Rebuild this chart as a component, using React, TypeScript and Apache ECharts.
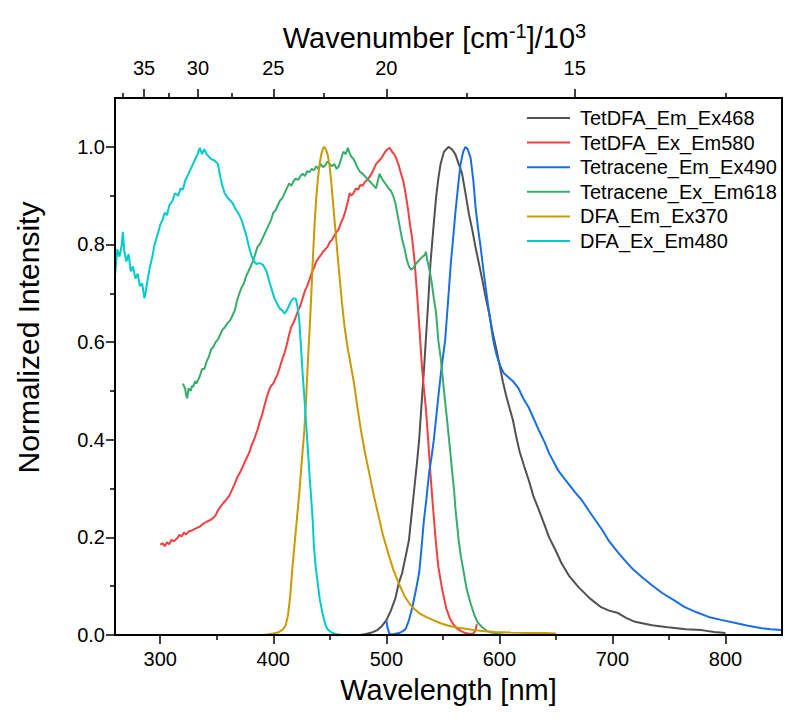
import React, { useEffect, useRef } from 'react';
import * as echarts from 'echarts';

// ---------- data (wavelength nm / normalized intensity) ----------
const tetDfaEmWl = [477, 482, 487, 492, 496, 500, 504, 508, 511, 514, 517, 520, 522.5, 524.6, 527, 529, 530.5, 532, 533.5, 534.9, 537, 539, 541.5, 544, 546, 548, 551, 555, 558, 561, 564, 567, 570, 573, 576, 579, 582, 585, 588, 591, 594, 597, 600, 603, 606, 609, 612, 615, 618, 622, 626, 630, 635, 640, 644, 650, 655, 662, 670, 680, 690, 697, 705, 712, 720, 735, 749, 765, 779, 790, 800];
const tetDfaEmInt = [0, 0.002, 0.005, 0.01, 0.018, 0.03, 0.05, 0.075, 0.106, 0.127, 0.16, 0.194, 0.25, 0.297, 0.35, 0.399, 0.45, 0.501, 0.55, 0.603, 0.68, 0.76, 0.83, 0.896, 0.935, 0.965, 0.99, 1.0, 0.995, 0.985, 0.965, 0.945, 0.905, 0.863, 0.83, 0.793, 0.76, 0.726, 0.69, 0.658, 0.62, 0.589, 0.555, 0.52, 0.49, 0.465, 0.44, 0.405, 0.375, 0.345, 0.317, 0.285, 0.256, 0.225, 0.2, 0.172, 0.147, 0.12, 0.098, 0.075, 0.057, 0.05, 0.045, 0.035, 0.027, 0.02, 0.016, 0.012, 0.01, 0.006, 0.004];

const tetDfaExWl = [300, 302, 304, 306, 308, 310, 312, 315, 317, 319, 321, 323, 325, 328, 331, 333, 335, 338, 341, 344, 347, 349, 351, 353, 355, 358, 361, 364, 366, 368, 371, 373, 376, 379, 381, 383, 386, 388, 390, 392, 394, 396, 398, 400, 402, 404, 406, 408, 410, 412, 414, 416, 418, 420, 422, 424, 426, 428, 430, 432, 434, 436, 438, 440, 442, 444, 446, 448, 450, 452, 454, 456, 458, 460, 462, 464, 466, 467.5, 469, 471, 473, 475, 477, 479, 481, 483, 485, 487, 489, 491, 493, 495, 497, 499, 501, 503, 505, 507, 509, 511, 513, 515, 517, 519, 521, 523, 525, 527, 528.5, 530, 531.5, 533, 534.9, 537, 539, 541, 543.7, 546, 549.5, 553, 556, 558.4, 562, 566, 570, 574, 577, 579, 580];
const tetDfaExInt = [0.185, 0.188, 0.182, 0.19, 0.186, 0.195, 0.192, 0.198, 0.205, 0.202, 0.21, 0.206, 0.212, 0.214, 0.218, 0.22, 0.222, 0.228, 0.232, 0.235, 0.24, 0.245, 0.255, 0.262, 0.268, 0.276, 0.285, 0.3, 0.31, 0.322, 0.335, 0.345, 0.36, 0.375, 0.39, 0.4, 0.42, 0.437, 0.45, 0.468, 0.485, 0.5, 0.51, 0.515, 0.525, 0.535, 0.55, 0.565, 0.578, 0.595, 0.615, 0.632, 0.64, 0.652, 0.665, 0.675, 0.69, 0.705, 0.715, 0.728, 0.742, 0.752, 0.765, 0.772, 0.778, 0.785, 0.79, 0.795, 0.805, 0.81, 0.818, 0.825, 0.832, 0.845, 0.855, 0.87, 0.888, 0.905, 0.9, 0.905, 0.915, 0.912, 0.922, 0.92, 0.928, 0.932, 0.938, 0.945, 0.955, 0.965, 0.97, 0.975, 0.982, 0.99, 0.995, 0.998, 0.99, 0.985, 0.975, 0.962, 0.945, 0.93, 0.905, 0.875, 0.84, 0.81, 0.765, 0.705, 0.655, 0.603, 0.55, 0.51, 0.467, 0.4, 0.331, 0.27, 0.194, 0.14, 0.092, 0.055, 0.035, 0.025, 0.014, 0.008, 0.004, 0.002, 0.003, 0.01, 0.022];

const tetEmWl = [500, 501, 503, 507, 511, 514, 517, 520, 523, 526, 529, 531, 533, 535.5, 537.8, 540, 542, 544.3, 546.6, 549, 552, 554.5, 557, 559, 561, 563.5, 565.7, 568, 570, 572, 574.5, 577, 579, 581, 583.4, 586, 588, 590, 592, 594, 596, 598, 601, 604, 608, 612, 617, 621, 626, 630, 635, 640, 644, 648, 652, 657, 661, 667, 673, 679, 685, 691, 696.5, 704, 711, 718, 726, 735, 744, 754, 764, 774, 785, 796, 808, 820, 832, 840, 850];
const tetEmInt = [0.03, 0.015, 0.001, 0.002, 0.004, 0.007, 0.012, 0.03, 0.057, 0.09, 0.127, 0.175, 0.229, 0.28, 0.331, 0.365, 0.399, 0.45, 0.501, 0.55, 0.603, 0.68, 0.76, 0.81, 0.863, 0.92, 0.965, 0.99, 1.0, 0.995, 0.978, 0.93, 0.875, 0.835, 0.795, 0.745, 0.71, 0.675, 0.645, 0.612, 0.588, 0.57, 0.55, 0.536, 0.528, 0.52, 0.505, 0.485, 0.466, 0.445, 0.419, 0.395, 0.372, 0.355, 0.337, 0.322, 0.31, 0.292, 0.276, 0.255, 0.235, 0.215, 0.194, 0.172, 0.153, 0.135, 0.119, 0.102, 0.086, 0.072, 0.057, 0.047, 0.037, 0.031, 0.025, 0.019, 0.014, 0.012, 0.01];

const tetExWl = [320, 321, 322, 323, 324, 325, 327, 328, 329, 331, 332, 334, 335, 337, 339, 341, 343, 345, 347, 349, 351, 353, 355, 357, 360, 362, 364, 366, 368, 370, 372, 374, 376, 378, 380, 382, 384, 386, 388, 390, 392, 394, 396, 398, 400, 402, 404, 406, 408, 410, 412, 414, 416, 418, 420, 422, 424, 426, 428, 430, 432, 434, 436, 438, 440, 442, 444, 446, 448, 450, 452, 454, 456, 458, 460, 462, 464, 466, 467, 469, 471, 473, 475, 477, 479, 481, 483, 485, 487, 489, 491, 493, 494, 496, 498, 500, 502, 504, 506, 508, 510, 512, 514, 516, 518, 520, 522, 524, 526, 528, 530, 532, 534, 535, 536, 538, 540, 542, 544, 546, 548, 549.5, 551, 552.5, 554, 555.5, 557, 558.4, 560, 561, 562.5, 564, 566, 568.6, 571, 574.5, 578, 581, 584.8, 589, 593, 596.6, 600, 605];
const tetExInt = [0.515, 0.51, 0.505, 0.49, 0.485, 0.505, 0.5, 0.51, 0.508, 0.52, 0.515, 0.525, 0.53, 0.545, 0.545, 0.56, 0.57, 0.585, 0.59, 0.6, 0.605, 0.615, 0.625, 0.63, 0.64, 0.645, 0.655, 0.665, 0.685, 0.7, 0.712, 0.72, 0.735, 0.745, 0.755, 0.765, 0.78, 0.795, 0.8, 0.81, 0.82, 0.83, 0.84, 0.85, 0.865, 0.87, 0.88, 0.89, 0.895, 0.905, 0.915, 0.925, 0.92, 0.93, 0.935, 0.932, 0.94, 0.945, 0.94, 0.95, 0.948, 0.955, 0.952, 0.96, 0.955, 0.965, 0.958, 0.962, 0.97, 0.965, 0.96, 0.965, 0.955, 0.96, 0.975, 0.99, 0.985, 0.998, 0.99, 0.98, 0.975, 0.965, 0.955, 0.948, 0.945, 0.94, 0.935, 0.93, 0.925, 0.92, 0.915, 0.935, 0.945, 0.935, 0.928, 0.922, 0.915, 0.91, 0.9, 0.885, 0.86, 0.835, 0.81, 0.793, 0.77, 0.755, 0.748, 0.752, 0.76, 0.765, 0.77, 0.775, 0.778, 0.785, 0.77, 0.75, 0.725, 0.69, 0.66, 0.603, 0.57, 0.536, 0.5, 0.467, 0.435, 0.399, 0.365, 0.331, 0.295, 0.262, 0.228, 0.194, 0.16, 0.127, 0.095, 0.065, 0.04, 0.025, 0.016, 0.008, 0.005, 0.004, 0.002, 0];

const dfaEmWl = [390, 395, 400, 404, 407, 409, 411, 413, 415, 417, 419, 421, 423, 425, 427.5, 429, 430.5, 432, 433.5, 435, 436.5, 438, 439.5, 441, 442.5, 444, 445, 446.5, 448, 449.6, 451, 452.5, 454, 455.5, 457, 459, 461, 463, 465.5, 468, 471.5, 474.5, 477.5, 481, 485, 489, 493, 497, 502, 506, 511, 516, 520, 523, 529, 535, 541, 548, 555, 561, 570, 578, 585, 596, 610, 625, 640, 650];
const dfaEmInt = [0, 0.001, 0.003, 0.005, 0.009, 0.013, 0.02, 0.04, 0.08, 0.14, 0.19, 0.24, 0.29, 0.35, 0.42, 0.48, 0.556, 0.62, 0.69, 0.77, 0.84, 0.895, 0.935, 0.965, 0.985, 0.997, 1.0, 0.995, 0.985, 0.965, 0.935, 0.895, 0.855, 0.815, 0.775, 0.725, 0.675, 0.632, 0.592, 0.56, 0.515, 0.465, 0.42, 0.375, 0.33, 0.285, 0.245, 0.205, 0.165, 0.135, 0.106, 0.08, 0.066, 0.057, 0.045, 0.037, 0.031, 0.024, 0.019, 0.016, 0.013, 0.01, 0.008, 0.006, 0.005, 0.004, 0.004, 0.003];

const dfaExWl = [260, 262, 264, 266, 267, 268, 270, 272, 274, 276, 278, 280, 282, 284, 286, 287, 289, 291, 293, 295, 297, 300, 302, 304, 306, 308, 311, 313, 316, 318, 320, 322, 325, 327, 329, 331, 333, 335, 337, 339, 341, 343, 345, 348, 351, 353, 355, 357, 360, 362, 364, 366, 368, 370, 372, 374, 376, 378, 381, 383, 385, 388, 391, 394, 397, 399, 401, 403, 406, 408, 410, 412, 414, 416, 418, 420, 421.5, 423, 424.5, 426, 427.5, 429, 430.5, 432, 433.5, 435, 436, 437.5, 439, 441, 443.5, 446, 448, 451, 455, 460];
const dfaExInt = [0.735, 0.79, 0.775, 0.8, 0.826, 0.79, 0.765, 0.78, 0.745, 0.755, 0.73, 0.74, 0.715, 0.72, 0.69, 0.7, 0.73, 0.755, 0.775, 0.8, 0.815, 0.84, 0.85, 0.865, 0.86, 0.88, 0.89, 0.905, 0.9, 0.915, 0.912, 0.93, 0.945, 0.955, 0.965, 0.975, 0.985, 0.998, 0.985, 0.995, 0.985, 0.98, 0.975, 0.972, 0.965, 0.94, 0.92, 0.905, 0.895, 0.89, 0.885, 0.875, 0.868, 0.86, 0.85, 0.835, 0.82, 0.8, 0.775, 0.765, 0.76, 0.762, 0.758, 0.745, 0.72, 0.705, 0.69, 0.68, 0.668, 0.665, 0.658, 0.665, 0.675, 0.685, 0.69, 0.688, 0.672, 0.645, 0.59, 0.535, 0.487, 0.435, 0.384, 0.33, 0.282, 0.23, 0.18, 0.14, 0.112, 0.075, 0.045, 0.022, 0.012, 0.006, 0.002, 0];

const seriesNames = ['TetDFA_Em_Ex468', 'TetDFA_Ex_Em580', 'Tetracene_Em_Ex490', 'Tetracene_Ex_Em618', 'DFA_Em_Ex370', 'DFA_Ex_Em480'];
const seriesColors = ['#515151', '#F14040', '#1A6FDF', '#37AD6B', '#CC9900', '#00CBCC'];
const seriesWl = [tetDfaEmWl, tetDfaExWl, tetEmWl, tetExWl, dfaEmWl, dfaExWl];
const seriesInt = [tetDfaEmInt, tetDfaExInt, tetEmInt, tetExInt, dfaEmInt, dfaExInt];

// ---------- axis ticks ----------
const bottomTicks = [300, 400, 500, 600, 700, 800];
const bottomMinorTicks = [350, 450, 550, 650, 750];
const topTicks = [35, 30, 25, 20, 15]; // wavenumber / 10^3 cm^-1
const topMinorTicks = [37.5, 32.5, 27.5, 22.5, 17.5, 12.5];
const yTicks = [0, 0.2, 0.4, 0.6, 0.8, 1.0];
const yMinorTicks = [0.1, 0.3, 0.5, 0.7, 0.9];

const FONT = 'Liberation Sans, Arial, sans-serif';
const X_MIN = 260;
const X_MAX = 850;
const Y_MIN = 0;
const Y_MAX = 1.1;

// plot frame corners (axis extents), drawn as a closed line through the axes
const frameX = [X_MIN, X_MAX, X_MAX, X_MIN, X_MIN];
const frameY = [Y_MIN, Y_MIN, Y_MAX, Y_MAX, Y_MIN];

const toWl = (k: number) => 1e4 / k;

export default function App() {
  const ref = useRef<HTMLDivElement>(null);

  useEffect(() => {
    document.body.style.margin = '0';
    if (!ref.current) return;
    const chart = echarts.init(ref.current, undefined, { renderer: 'svg' });
    const noLine = { show: false };
    const label = { color: '#000', fontFamily: FONT, fontSize: 20 };
    const tickStyle = { color: '#000', width: 1.5 };

    const option: any = {
      animation: false,
      grid: { left: 115, right: 3, top: 98, bottom: 87 },
      legend: {
        orient: 'vertical',
        left: 527,
        top: 108,
        padding: 0,
        itemWidth: 43,
        itemHeight: 2,
        itemGap: 4.6,
        icon: 'rect',
        textStyle: { color: '#000', fontFamily: FONT, fontSize: 20, lineHeight: 20, padding: [0, 0, 0, 5] },
        data: seriesNames,
      },
      xAxis: [
        {
          type: 'value', position: 'bottom', min: X_MIN, max: X_MAX,
          axisLine: noLine, splitLine: { show: false },
          axisTick: { show: true, customValues: bottomTicks, length: 9, lineStyle: tickStyle },
          axisLabel: { ...label, customValues: bottomTicks, margin: 14 },
          name: 'Wavelength [nm]', nameLocation: 'middle', nameGap: 40,
          nameTextStyle: { color: '#000', fontFamily: FONT, fontSize: 29 },
        },
        {
          type: 'value', position: 'bottom', min: X_MIN, max: X_MAX,
          axisLine: noLine, splitLine: { show: false },
          axisTick: { show: true, customValues: bottomMinorTicks, length: 5, lineStyle: tickStyle },
          axisLabel: { show: false },
        },
        {
          type: 'value', position: 'top', min: X_MIN, max: X_MAX,
          axisLine: noLine, splitLine: { show: false },
          axisTick: { show: true, customValues: topTicks.map(toWl), length: 9, lineStyle: tickStyle },
          axisLabel: { ...label, customValues: topTicks.map(toWl), margin: 20, formatter: (v: number) => String(Math.round(1e4 / v)) },
          name: 'Wavenumber [cm{sup|-1}]/10{sup|3}', nameLocation: 'middle', nameGap: 43,
          nameTextStyle: {
            color: '#000', fontFamily: FONT, fontSize: 29, padding: [0, 28, 0, 0],
            rich: { sup: { fontSize: 20, fontFamily: FONT, color: '#000', verticalAlign: 'top', padding: [0, 0, 14, 0] } },
          },
        },
        {
          type: 'value', position: 'top', min: X_MIN, max: X_MAX,
          axisLine: noLine, splitLine: { show: false },
          axisTick: { show: true, customValues: topMinorTicks.map(toWl), length: 5, lineStyle: tickStyle },
          axisLabel: { show: false },
        },
      ],
      yAxis: [
        {
          type: 'value', position: 'left', min: Y_MIN, max: Y_MAX,
          axisLine: noLine, splitLine: { show: false },
          axisTick: { show: true, customValues: yTicks, length: 9, lineStyle: tickStyle },
          axisLabel: { ...label, customValues: yTicks, margin: 10, formatter: (v: number) => v.toFixed(1) },
          name: 'Normalized Intensity', nameLocation: 'middle', nameGap: 72, nameRotate: 90,
          nameTextStyle: { color: '#000', fontFamily: FONT, fontSize: 30, padding: [0, 0, 0, 58] },
        },
        {
          type: 'value', position: 'left', min: Y_MIN, max: Y_MAX,
          axisLine: noLine, splitLine: { show: false },
          axisTick: { show: true, customValues: yMinorTicks, length: 5, lineStyle: tickStyle },
          axisLabel: { show: false },
        },
      ],
      series: [
        ...seriesNames.map((name, i) => ({
          name,
          type: 'line',
          xAxisIndex: 0,
          yAxisIndex: 0,
          symbol: 'none',
          showSymbol: false,
          color: seriesColors[i],
          lineStyle: { color: seriesColors[i], width: 2 },
          data: seriesWl[i].map((w, j) => [w, seriesInt[i][j]]),
        })),
        {
          name: 'frame',
          type: 'line',
          xAxisIndex: 0,
          yAxisIndex: 0,
          symbol: 'none',
          showSymbol: false,
          silent: true,
          clip: false,
          z: 5,
          color: '#000',
          lineStyle: { color: '#000', width: 2, join: 'miter', cap: 'square' },
          data: frameX.map((x, j) => [x, frameY[j]]),
        },
      ],
    };
    chart.setOption(option);
    return () => chart.dispose();
  }, []);

  return <div ref={ref} style={{ width: 785, height: 722 }} />;
}
